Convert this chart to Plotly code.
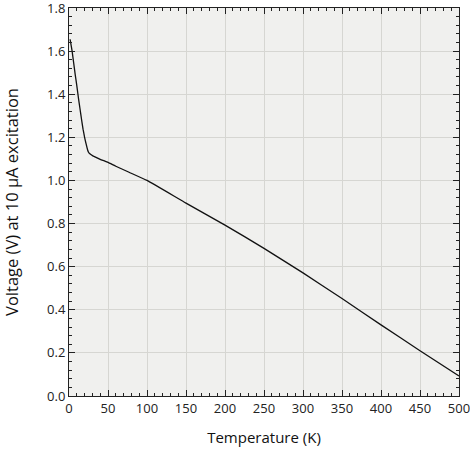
import plotly.graph_objects as go

temperature_K = [1.4, 4, 6, 8, 10, 12, 14, 16, 18, 20, 22, 24, 25, 26, 28, 30,
                 40, 50, 60, 77, 100, 150, 200, 250, 300, 350, 400, 450, 500]
voltage_V = [1.655, 1.60, 1.545, 1.49, 1.44, 1.385, 1.335, 1.285, 1.238, 1.200, 1.168,
             1.140, 1.131, 1.126, 1.120, 1.115, 1.098, 1.084, 1.066, 1.038, 1.0,
             0.895, 0.793, 0.685, 0.571, 0.452, 0.330, 0.210, 0.093]

x_ticks = [0, 50, 100, 150, 200, 250, 300, 350, 400, 450, 500]
y_ticks = [0.0, 0.2, 0.4, 0.6, 0.8, 1.0, 1.2, 1.4, 1.6, 1.8]

font_family = "Open Sans, DejaVu Sans, sans-serif"

fig = go.Figure()
fig.add_trace(go.Scatter(x=temperature_K, y=voltage_V, mode="lines",
                         line=dict(color="#111111", width=1.3, shape="spline", smoothing=0.3),
                         showlegend=False))

axis_common = dict(
    showline=True, linecolor="#222222", linewidth=1, mirror="allticks",
    ticks="inside", ticklen=6, tickcolor="#222222", tickwidth=1,
    showgrid=True, gridcolor="#d6d6d2", gridwidth=1, zeroline=False,
    tickfont=dict(family=font_family, size=13, color="#222222"),
    automargin=False, ticklabeloverflow="allow",
)

fig.update_xaxes(range=[0, 500.001], tickvals=x_ticks,
                 ticktext=[str(v) for v in x_ticks],
                 minor=dict(dtick=10, ticks="inside", ticklen=3, tickcolor="#222222", showgrid=False),
                 title=dict(text="Temperature (K)", font=dict(family=font_family, size=15, color="#111111"), standoff=16),
                 **axis_common)
fig.update_yaxes(range=[0, 1.80001], tickvals=y_ticks,
                 ticktext=[f"{v:.1f}" for v in y_ticks],
                 minor=dict(dtick=0.04, ticks="inside", ticklen=3, tickcolor="#222222", showgrid=False),
                 title=dict(text="Voltage (V) at 10 μA excitation", font=dict(family=font_family, size=16.5, color="#111111"), standoff=34),
                 **axis_common)

fig.update_layout(
    width=470, height=449,
    margin=dict(l=69, r=11, t=8, b=53),
    paper_bgcolor="white", plot_bgcolor="#f0f0ee",
)

fig.write_html("out.html", config={"displayModeBar": False},
               post_script="document.body.style.margin='0';document.body.style.overflow='hidden';")
